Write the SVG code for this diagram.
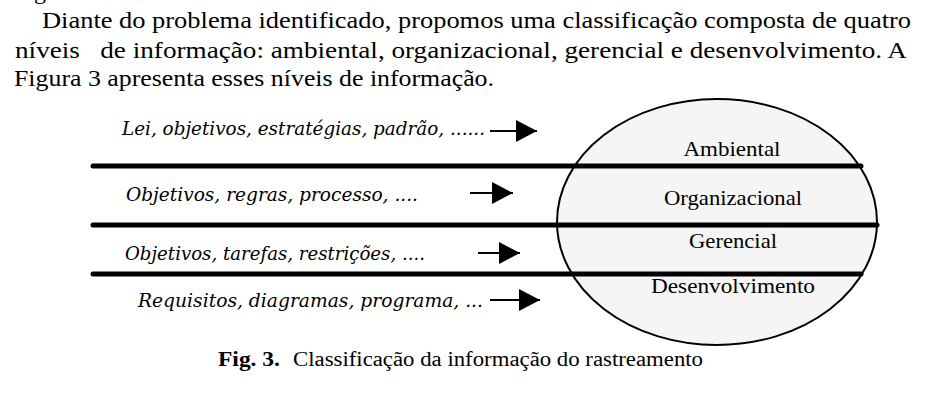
<svg xmlns="http://www.w3.org/2000/svg" width="932" height="414" viewBox="0 0 932 414">
<defs>
<marker id="ah" markerUnits="userSpaceOnUse" markerWidth="22" markerHeight="22" viewBox="0 0 22 22" refX="21" refY="11" orient="auto">
<path d="M0,0 L21,11 L0,22 Z" fill="#000"/>
</marker>
</defs>
<style>
.para{font-family:"Liberation Serif","Times New Roman",serif;font-size:24px;fill:#000}
.it{font-family:"DejaVu Serif",serif;font-style:italic;font-size:18.5px;fill:#000}
.lbl{font-family:"Liberation Serif","Times New Roman",serif;font-size:22px;fill:#000;text-anchor:middle}
.cap{font-family:"Liberation Serif","Times New Roman",serif;font-size:20px;fill:#000}
.bar{stroke:#000;stroke-width:5;stroke-linecap:round;fill:none}
.arr{stroke:#000;stroke-width:2;fill:none;marker-end:url(#ah)}
</style>
<rect width="932" height="414" fill="#fff"/>
<g id="paragraph">
<text class="para" x="34" y="-1">g</text>
<text class="para" x="42" y="28" textLength="869" lengthAdjust="spacingAndGlyphs">Diante do problema identificado, propomos uma classificação composta de quatro</text>
<text class="para" x="15" y="58" textLength="892" lengthAdjust="spacingAndGlyphs">níveis&#160;&#160; de informação: ambiental, organizacional, gerencial e desenvolvimento. A</text>
<text class="para" x="14" y="86" textLength="480" lengthAdjust="spacingAndGlyphs">Figura 3 apresenta esses níveis de informação.</text>
</g>
<g id="levels">
<ellipse cx="717" cy="222" rx="160" ry="123" fill="#f5f5f5" stroke="#000" stroke-width="2"/>
</g>
<g id="connectors">
<line class="bar" x1="93" y1="166" x2="861" y2="166"/>
<line class="bar" x1="93" y1="225" x2="877" y2="225"/>
<line class="bar" x1="93" y1="274" x2="861" y2="274"/>
<line class="arr" x1="490" y1="131" x2="537" y2="131"/>
<line class="arr" x1="470" y1="193" x2="513" y2="193"/>
<line class="arr" x1="478" y1="253" x2="520" y2="253"/>
<line class="arr" x1="490" y1="300" x2="540" y2="300"/>
</g>
<g id="node-ambiental"><text class="lbl" x="732" y="156" textLength="97" lengthAdjust="spacingAndGlyphs">Ambiental</text></g>
<g id="node-organizacional"><text class="lbl" x="733" y="205" textLength="138" lengthAdjust="spacingAndGlyphs">Organizacional</text></g>
<g id="node-gerencial"><text class="lbl" x="733" y="248" textLength="88" lengthAdjust="spacingAndGlyphs">Gerencial</text></g>
<g id="node-desenvolvimento"><text class="lbl" x="733" y="293" textLength="164" lengthAdjust="spacingAndGlyphs">Desenvolvimento</text></g>
<g id="inputs">
<text class="it" x="122" y="135" textLength="363" lengthAdjust="spacingAndGlyphs">Lei, objetivos, estratégias, padrão, ......</text>
<text class="it" x="126" y="201" textLength="292" lengthAdjust="spacingAndGlyphs">Objetivos, regras, processo, ....</text>
<text class="it" x="125" y="260" textLength="300" lengthAdjust="spacingAndGlyphs">Objetivos, tarefas, restrições, ....</text>
<text class="it" x="138" y="307" textLength="345" lengthAdjust="spacingAndGlyphs">Requisitos, diagramas, programa, ...</text>
</g>
<g id="caption">
<text class="cap" x="218" y="366" font-weight="bold" textLength="62" lengthAdjust="spacingAndGlyphs">Fig. 3.</text>
<text class="cap" x="293" y="366" textLength="410" lengthAdjust="spacingAndGlyphs">Classificação da informação do rastreamento</text>
</g>
</svg>
